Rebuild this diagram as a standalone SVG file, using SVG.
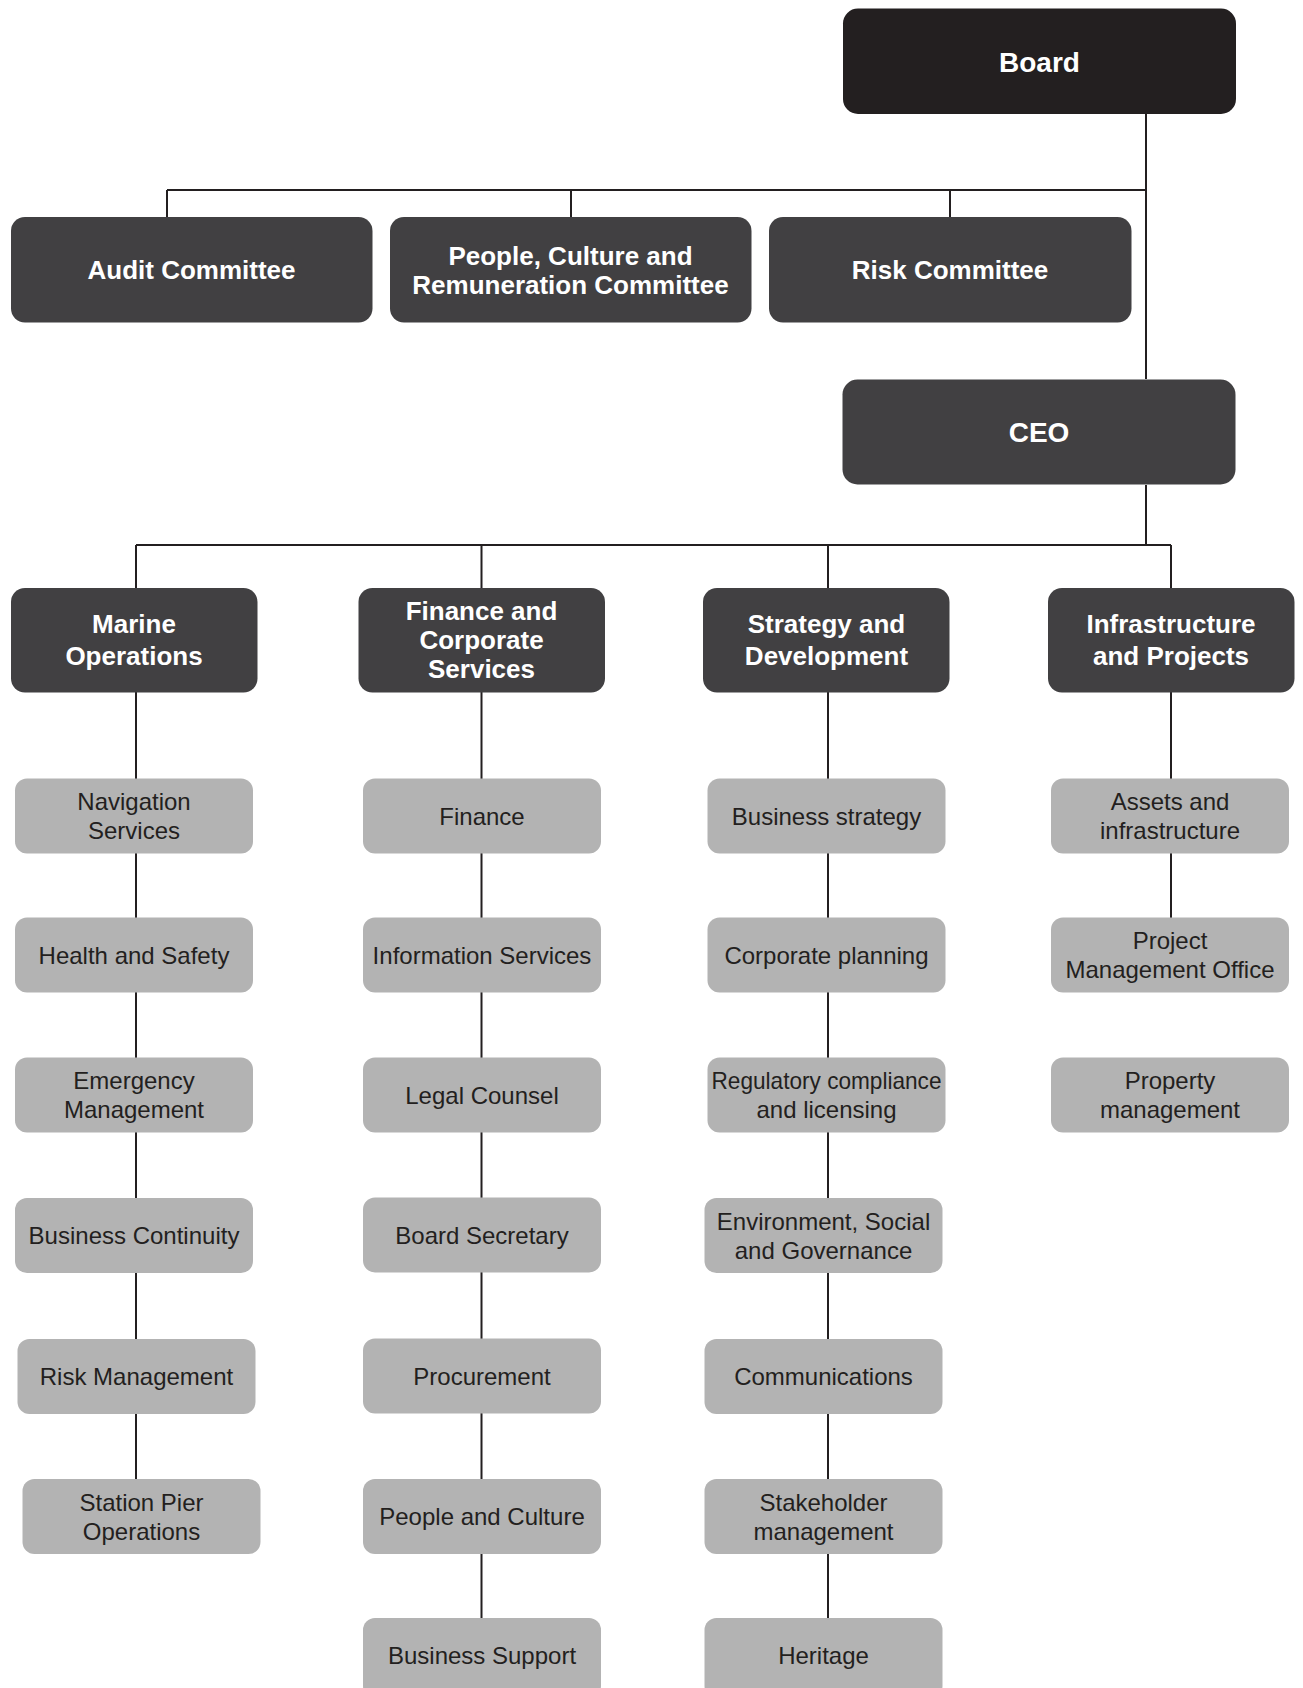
<svg xmlns="http://www.w3.org/2000/svg" width="1303" height="1688" viewBox="0 0 1303 1688">
<style>
.bg{fill:#ffffff}
.board{fill:#231f20}
.dark{fill:#414042}
.light{fill:#b3b3b3}
.conn{stroke:#231f20;stroke-width:2;fill:none}
.tb{font-family:"Liberation Sans",Arial,sans-serif;font-weight:bold;fill:#ffffff;text-anchor:middle}
.tl{font-family:"Liberation Sans",Arial,sans-serif;font-size:24px;fill:#231f20;text-anchor:middle}
</style>
<rect class="bg" x="0" y="0" width="1303" height="1688"/>
<g id="connectors">
<path class="conn" d="M1146 114V379"/>
<path class="conn" d="M167 190H1146M167 190V217M571 190V217M950 190V217"/>
<path class="conn" d="M1146 485V545M136 545H1171M136 545V588M481.5 545V588M828 545V588M1171 545V588"/>
<path class="conn" d="M136 692V1480"/>
<path class="conn" d="M481.5 692V1619"/>
<path class="conn" d="M828 692V1619"/>
<path class="conn" d="M1171 692V918"/>
</g>
<g id="board"><rect class="board" x="843" y="8.5" width="393" height="105.5" rx="15"/><text class="tb" x="1039.5" y="71.5" font-size="28">Board</text></g>
<g id="audit"><rect class="dark" x="11" y="217" width="361.5" height="105.5" rx="14"/><text class="tb" x="191.5" y="279" font-size="26">Audit Committee</text></g>
<g id="pcr"><rect class="dark" x="390" y="217" width="361.5" height="105.5" rx="14"/><text class="tb" x="570.5" y="264.5" font-size="26">People, Culture and</text><text class="tb" x="570.5" y="293.5" font-size="26">Remuneration Committee</text></g>
<g id="risk"><rect class="dark" x="769" y="217" width="362.5" height="105.5" rx="14"/><text class="tb" x="950" y="279" font-size="26">Risk Committee</text></g>
<g id="ceo"><rect class="dark" x="842.5" y="379.5" width="393" height="105" rx="15"/><text class="tb" x="1039" y="442" font-size="28">CEO</text></g>
<g id="marine"><rect class="dark" x="11" y="588" width="246.5" height="104.5" rx="14"/><text class="tb" x="134" y="633" font-size="26">Marine</text><text class="tb" x="134" y="665" font-size="26">Operations</text></g>
<g id="finance-corp"><rect class="dark" x="358.5" y="588" width="246.5" height="104.5" rx="14"/><text class="tb" x="481.5" y="620" font-size="26">Finance and</text><text class="tb" x="481.5" y="649" font-size="26">Corporate</text><text class="tb" x="481.5" y="678" font-size="26">Services</text></g>
<g id="strategy"><rect class="dark" x="703" y="588" width="246.5" height="104.5" rx="14"/><text class="tb" x="826.5" y="633" font-size="26">Strategy and</text><text class="tb" x="826.5" y="665" font-size="26">Development</text></g>
<g id="infra"><rect class="dark" x="1048" y="588" width="246.5" height="104.5" rx="14"/><text class="tb" x="1171" y="633" font-size="26">Infrastructure</text><text class="tb" x="1171" y="665" font-size="26">and Projects</text></g>

<g id="nav"><rect class="light" x="15" y="778.5" width="238" height="75" rx="12"/><text class="tl" x="134" y="810">Navigation</text><text class="tl" x="134" y="839">Services</text></g>
<g id="health"><rect class="light" x="15" y="917.5" width="238" height="75" rx="12"/><text class="tl" x="134" y="963.5">Health and Safety</text></g>
<g id="emergency"><rect class="light" x="15" y="1057.5" width="238" height="75" rx="12"/><text class="tl" x="134" y="1089">Emergency</text><text class="tl" x="134" y="1118">Management</text></g>
<g id="continuity"><rect class="light" x="15" y="1198" width="238" height="75" rx="12"/><text class="tl" x="134" y="1244">Business Continuity</text></g>
<g id="riskmgmt"><rect class="light" x="17.5" y="1339" width="238" height="75" rx="12"/><text class="tl" x="136.5" y="1385">Risk Management</text></g>
<g id="pier"><rect class="light" x="22.5" y="1479" width="238" height="75" rx="12"/><text class="tl" x="141.5" y="1510.5">Station Pier</text><text class="tl" x="141.5" y="1539.5">Operations</text></g>

<g id="fin"><rect class="light" x="363" y="778.5" width="238" height="75" rx="12"/><text class="tl" x="482" y="825">Finance</text></g>
<g id="info"><rect class="light" x="363" y="917.5" width="238" height="75" rx="12"/><text class="tl" x="482" y="963.5">Information Services</text></g>
<g id="legal"><rect class="light" x="363" y="1057.5" width="238" height="75" rx="12"/><text class="tl" x="482" y="1103.5">Legal Counsel</text></g>
<g id="secretary"><rect class="light" x="363" y="1197.5" width="238" height="75" rx="12"/><text class="tl" x="482" y="1243.5">Board Secretary</text></g>
<g id="procurement"><rect class="light" x="363" y="1338.5" width="238" height="75" rx="12"/><text class="tl" x="482" y="1384.5">Procurement</text></g>
<g id="pc"><rect class="light" x="363" y="1479" width="238" height="75" rx="12"/><text class="tl" x="482" y="1525">People and Culture</text></g>
<g id="support"><rect class="light" x="363" y="1618" width="238" height="80" rx="12"/><text class="tl" x="482" y="1664">Business Support</text></g>

<g id="bstrategy"><rect class="light" x="707.5" y="778.5" width="238" height="75" rx="12"/><text class="tl" x="826.5" y="825">Business strategy</text></g>
<g id="planning"><rect class="light" x="707.5" y="917.5" width="238" height="75" rx="12"/><text class="tl" x="826.5" y="963.5">Corporate planning</text></g>
<g id="regulatory"><rect class="light" x="707.5" y="1057.5" width="238" height="75" rx="12"/><text class="tl" x="826.5" y="1089" textLength="230" lengthAdjust="spacingAndGlyphs">Regulatory compliance</text><text class="tl" x="826.5" y="1118">and licensing</text></g>
<g id="esg"><rect class="light" x="704.5" y="1198" width="238" height="75" rx="12"/><text class="tl" x="823.5" y="1229.5">Environment, Social</text><text class="tl" x="823.5" y="1258.5">and Governance</text></g>
<g id="comms"><rect class="light" x="704.5" y="1339" width="238" height="75" rx="12"/><text class="tl" x="823.5" y="1385">Communications</text></g>
<g id="stakeholder"><rect class="light" x="704.5" y="1479" width="238" height="75" rx="12"/><text class="tl" x="823.5" y="1510.5">Stakeholder</text><text class="tl" x="823.5" y="1539.5">management</text></g>
<g id="heritage"><rect class="light" x="704.5" y="1618" width="238" height="80" rx="12"/><text class="tl" x="823.5" y="1664">Heritage</text></g>

<g id="assets"><rect class="light" x="1051" y="778.5" width="238" height="75" rx="12"/><text class="tl" x="1170" y="810">Assets and</text><text class="tl" x="1170" y="839">infrastructure</text></g>
<g id="pmo"><rect class="light" x="1051" y="917.5" width="238" height="75" rx="12"/><text class="tl" x="1170" y="949">Project</text><text class="tl" x="1170" y="978">Management Office</text></g>
<g id="property"><rect class="light" x="1051" y="1057.5" width="238" height="75" rx="12"/><text class="tl" x="1170" y="1089">Property</text><text class="tl" x="1170" y="1118">management</text></g>
</svg>
